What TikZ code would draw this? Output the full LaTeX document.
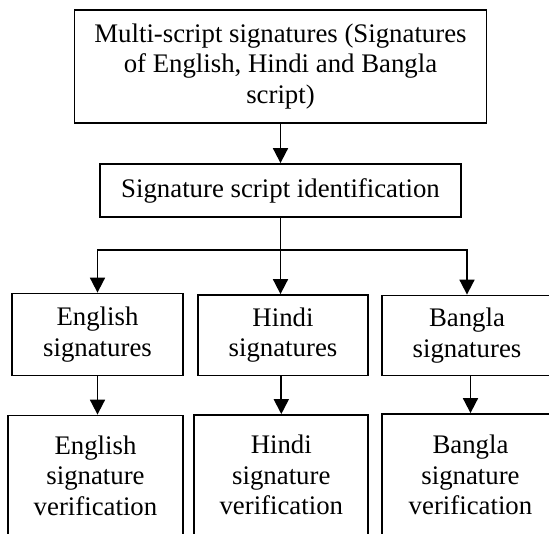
\documentclass[tikz,border=0pt]{standalone}
\usepackage{fontspec}
\setmainfont{Liberation Serif}
\usetikzlibrary{arrows.meta,positioning}

\begin{document}
\begin{tikzpicture}[x=1pt, y=-1pt, line width=1.8pt,
	>={Triangle[width=15pt,length=15pt]},
	mybox/.style={rectangle,draw=black,line width=1.8pt,align=center,inner sep=0pt,
		font=\fontsize{26.8}{30.5}\selectfont}]
	\useasboundingbox (0,0) rectangle (549,533);
	\clip (0,0) rectangle (549,533);
	\node[mybox,minimum width=412pt,minimum height=113pt] (multi) at (280.5,66.5)
		{Multi-script signatures (Signatures\\of English, Hindi and Bangla\\script)};
	\node[mybox,minimum width=361.5pt,minimum height=53pt] (ident) at (280.5,190.5)
		{Signature script identification};
	\coordinate (split) at (280.5,250);
	\node[mybox,minimum width=171pt,minimum height=82pt] (engsig) at (97.5,334.5) {English\\signatures};
	\node[mybox,minimum width=170pt,minimum height=80.5pt] (hinsig) at (283,335.25) {Hindi\\signatures};
	\node[mybox,minimum width=170pt,minimum height=80pt] (bansig) at (467,335.5) {Bangla\\signatures};
	\node[mybox,minimum width=174.5pt,minimum height=120pt] (engver) at (95.5,475.5) {English\\signature\\verification};
	\node[mybox,minimum width=174pt,minimum height=120pt] (hinver) at (281.3,475) {Hindi\\signature\\verification};
	\node[mybox,minimum width=177pt,minimum height=122pt] (banver) at (470.5,475) {Bangla\\signature\\verification};
	\draw[->] (multi) -- (ident);
	\draw (ident) -- (split);
	\draw[->] (split) -| (engsig.north);
	\draw[->] (split) -- (split |- hinsig.north);
	\draw[->] (split) -| (bansig.north);
	\draw[->] (engsig.south) -- (engsig.south |- engver.north);
	\draw[->] (hinver.north |- hinsig.south) -- (hinver.north);
	\draw[->] (banver.north |- bansig.south) -- (banver.north);
\end{tikzpicture}
\end{document}
